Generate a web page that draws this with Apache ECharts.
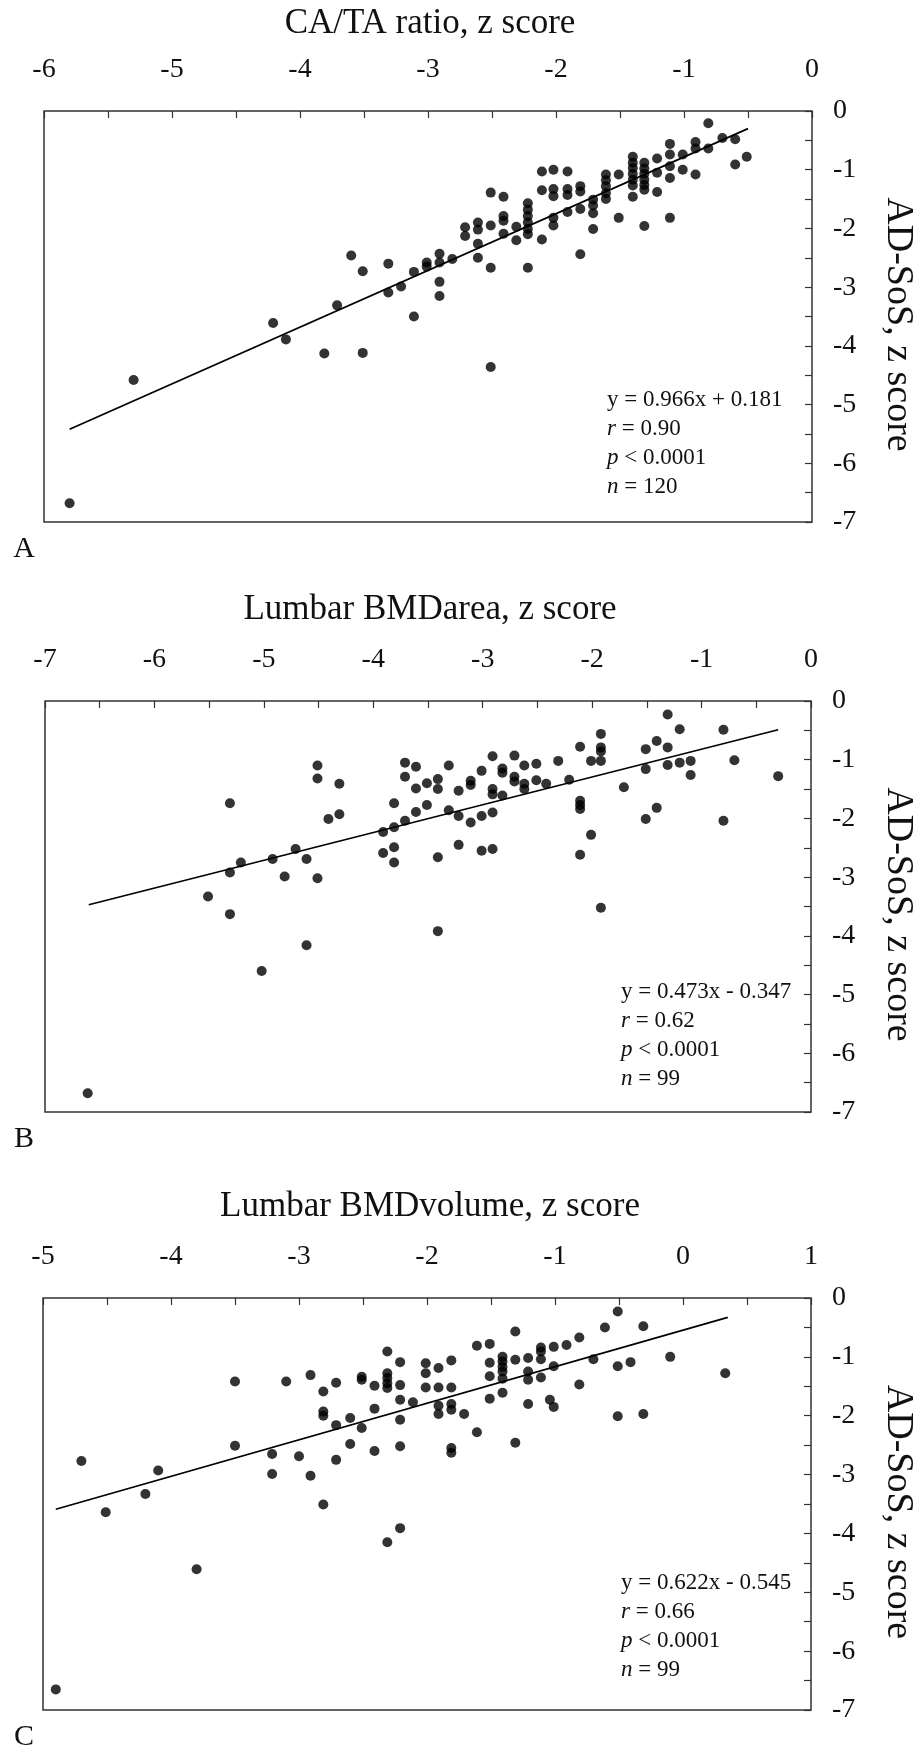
<!DOCTYPE html>
<html><head><meta charset="utf-8">
<script src="https://cdn.jsdelivr.net/npm/echarts@6/dist/echarts.min.js"></script>
<style>html,body{margin:0;padding:0;background:#fff}#c{width:916px;height:1748px}</style>
</head><body><div id="c"></div>
<script>
// ---------- DATA ----------
const titlesX = ['CA/TA ratio, z score', 'Lumbar BMDarea, z score', 'Lumbar BMDvolume, z score'];
const titleY = 'AD-SoS, z score';
const panelLetters = ['A', 'B', 'C'];
const xRangeA = [-6, 0];
const xRangeB = [-7, 0];
const xRangeC = [-5, 1];
const yRange = [-7, 0];

const pointsA = [
  [-5.80,-6.68],[-5.30,-4.58],[-4.21,-3.61],[-4.11,-3.89],[-3.81,-4.13],[-3.71,-3.31],[-3.60,-2.46],
  [-3.51,-2.73],[-3.51,-4.12],[-3.31,-2.60],[-3.31,-3.09],[-3.21,-2.99],[-3.11,-2.74],[-3.11,-3.50],
  [-3.01,-2.58],[-3.01,-2.65],[-2.91,-2.43],[-2.91,-2.58],[-2.91,-2.91],[-2.91,-3.15],[-2.81,-2.52],
  [-2.71,-1.98],[-2.71,-2.13],[-2.61,-1.90],[-2.61,-2.02],[-2.61,-2.26],[-2.61,-2.50],[-2.51,-1.39],
  [-2.51,-1.95],[-2.51,-2.67],[-2.51,-4.36],[-2.41,-1.46],[-2.41,-1.79],[-2.41,-1.87],[-2.41,-2.09],
  [-2.31,-1.97],[-2.31,-2.20],
  [-2.22,-1.57],[-2.22,-1.68],[-2.22,-1.79],[-2.22,-1.90],[-2.22,-2.01],[-2.22,-2.10],[-2.22,-2.67],
  [-2.11,-1.03],[-2.11,-1.35],[-2.11,-2.19],
  [-2.02,-1.00],[-2.02,-1.33],[-2.02,-1.45],[-2.02,-1.82],[-2.02,-1.95],
  [-1.91,-1.03],[-1.91,-1.33],[-1.91,-1.43],[-1.91,-1.72],
  [-1.81,-1.28],[-1.81,-1.37],[-1.81,-1.67],[-1.81,-2.44],
  [-1.71,-1.51],[-1.71,-1.61],[-1.71,-1.74],[-1.71,-2.01],
  [-1.61,-1.08],[-1.61,-1.18],[-1.61,-1.28],[-1.61,-1.40],[-1.61,-1.50],
  [-1.51,-1.08],[-1.51,-1.82],
  [-1.40,-0.78],[-1.40,-0.88],[-1.40,-0.97],[-1.40,-1.07],[-1.40,-1.17],[-1.40,-1.27],[-1.40,-1.46],
  [-1.31,-0.88],[-1.31,-0.98],[-1.31,-1.07],[-1.31,-1.17],[-1.31,-1.26],[-1.31,-1.34],[-1.31,-1.96],
  [-1.21,-0.81],[-1.21,-1.05],[-1.21,-1.38],
  [-1.11,-0.56],[-1.11,-0.74],[-1.11,-0.94],[-1.11,-1.14],[-1.11,-1.82],
  [-1.01,-0.74],[-1.01,-1.00],
  [-0.91,-0.53],[-0.91,-0.64],[-0.91,-1.08],
  [-0.81,-0.21],[-0.81,-0.64],
  [-0.70,-0.46],[-0.60,-0.48],[-0.60,-0.91],[-0.51,-0.78]
];
const pointsB = [
  [-6.61,-6.68],[-5.51,-3.33],[-5.31,-1.74],[-5.31,-2.92],[-5.31,-3.63],[-5.21,-2.75],[-5.02,-4.60],
  [-4.92,-2.69],[-4.81,-2.99],[-4.71,-2.52],[-4.61,-2.69],[-4.61,-4.16],[-4.51,-1.10],[-4.51,-1.32],
  [-4.51,-3.02],[-4.41,-2.01],[-4.31,-1.41],[-4.31,-1.93],[-3.91,-2.23],[-3.91,-2.59],[-3.81,-1.74],
  [-3.81,-2.15],[-3.81,-2.49],[-3.81,-2.75],[-3.71,-1.05],[-3.71,-1.29],[-3.71,-2.04],[-3.61,-1.12],
  [-3.61,-1.49],[-3.61,-1.89],[-3.51,-1.40],[-3.51,-1.77],[-3.41,-1.33],[-3.41,-1.50],[-3.41,-2.66],
  [-3.41,-3.92],[-3.31,-1.10],[-3.31,-1.86],[-3.22,-1.53],[-3.22,-1.96],[-3.22,-2.45],[-3.11,-1.36],
  [-3.11,-1.43],[-3.11,-2.07],[-3.01,-1.19],[-3.01,-1.96],[-3.01,-2.55],[-2.91,-0.94],[-2.91,-1.50],
  [-2.91,-1.59],[-2.91,-1.90],[-2.91,-2.52],[-2.82,-1.15],[-2.82,-1.22],[-2.82,-1.61],[-2.71,-0.93],
  [-2.71,-1.29],[-2.71,-1.37],[-2.62,-1.10],[-2.62,-1.41],[-2.62,-1.50],[-2.51,-1.07],[-2.51,-1.35],
  [-2.42,-1.41],[-2.31,-1.02],[-2.21,-1.34],[-2.11,-0.78],[-2.11,-1.70],[-2.11,-1.77],[-2.11,-1.84],
  [-2.11,-2.62],[-2.01,-1.02],[-2.01,-2.28],[-1.92,-0.56],[-1.92,-0.79],[-1.92,-0.86],[-1.92,-1.02],
  [-1.92,-3.52],[-1.71,-1.47],[-1.51,-0.82],[-1.51,-1.16],[-1.51,-2.01],[-1.41,-0.68],[-1.41,-1.82],
  [-1.31,-0.23],[-1.31,-0.79],[-1.31,-1.09],[-1.20,-0.48],[-1.20,-1.05],[-1.10,-1.02],[-1.10,-1.26],
  [-0.80,-0.49],[-0.80,-2.04],[-0.70,-1.01],[-0.30,-1.28]
];
const pointsC = [
  [-4.90,-6.65],[-4.70,-2.77],[-4.51,-3.64],[-4.20,-3.33],[-4.10,-2.93],[-3.80,-4.61],[-3.50,-1.42],
  [-3.50,-2.51],[-3.21,-2.65],[-3.21,-2.99],[-3.10,-1.42],[-3.00,-2.69],[-2.91,-1.31],[-2.91,-3.02],
  [-2.81,-1.59],[-2.81,-1.93],[-2.81,-2.00],[-2.81,-3.51],[-2.71,-1.44],[-2.71,-2.16],[-2.71,-2.75],
  [-2.60,-2.04],[-2.60,-2.48],[-2.51,-1.34],[-2.51,-1.39],[-2.51,-2.21],[-2.41,-1.49],[-2.41,-1.88],
  [-2.41,-2.60],[-2.31,-0.91],[-2.31,-1.28],[-2.31,-1.36],[-2.31,-1.45],[-2.31,-1.53],[-2.31,-4.15],
  [-2.21,-1.09],[-2.21,-1.48],[-2.21,-1.73],[-2.21,-2.07],[-2.21,-2.52],[-2.21,-3.91],[-2.11,-1.77],
  [-2.01,-1.11],[-2.01,-1.28],[-2.01,-1.52],[-1.91,-1.19],[-1.91,-1.52],[-1.91,-1.83],[-1.91,-1.97],
  [-1.81,-1.06],[-1.81,-1.52],[-1.81,-1.80],[-1.81,-1.90],[-1.81,-2.55],[-1.81,-2.63],[-1.71,-1.97],
  [-1.61,-0.81],[-1.61,-2.28],[-1.51,-0.78],[-1.51,-1.10],[-1.51,-1.33],[-1.51,-1.71],[-1.41,-1.00],
  [-1.41,-1.08],[-1.41,-1.17],[-1.41,-1.25],[-1.41,-1.37],[-1.41,-1.61],[-1.31,-0.57],[-1.31,-1.05],
  [-1.31,-2.46],[-1.21,-1.02],[-1.21,-1.25],[-1.21,-1.39],[-1.21,-1.80],[-1.11,-0.84],[-1.11,-0.91],
  [-1.11,-1.04],[-1.11,-1.35],[-1.04,-1.73],[-1.01,-1.85],[-1.01,-0.83],[-1.01,-1.16],[-0.91,-0.80],
  [-0.81,-0.67],[-0.81,-1.47],[-0.70,-1.04],[-0.61,-0.50],[-0.51,-0.23],[-0.51,-1.16],[-0.51,-2.01],
  [-0.41,-1.09],[-0.31,-0.48],[-0.31,-1.97],[-0.10,-1.00],[0.33,-1.28]
];
// regression lines (endpoints)
const lineA = [[-5.8,-5.42],[-0.5,-0.30]];
const lineB = [[-6.6,-3.47],[-0.3,-0.49]];
const lineC = [[-4.9,-3.59],[0.35,-0.33]];
const statsA = ['y = 0.966x + 0.181', 'r', ' = 0.90', 'p', ' < 0.0001', 'n', ' = 120'];
const statsB = ['y = 0.473x - 0.347', 'r', ' = 0.62', 'p', ' < 0.0001', 'n', ' = 99'];
const statsC = ['y = 0.622x - 0.545', 'r', ' = 0.66', 'p', ' < 0.0001', 'n', ' = 99'];

// ---------- LAYOUT ----------
const FONT = '"Liberation Serif", "DejaVu Serif", serif';
const grids = [
  {left: 44, top: 111, width: 768, height: 411},
  {left: 45, top: 701, width: 766, height: 411},
  {left: 43, top: 1298, width: 768, height: 412}
];
const xRanges = [xRangeA, xRangeB, xRangeC];
const points = [pointsA, pointsB, pointsC];
const lines = [lineA, lineB, lineC];
const stats = [statsA, statsB, statsC];
const statsPos = [[607, 400], [621, 992], [621, 1583]];
const titleYPos = [24, 610, 1207];

const chart = echarts.init(document.getElementById('c'), null, {renderer: 'canvas'});
const fmt = v => (Math.abs(v - Math.round(v)) < 1e-9 ? String(Math.round(v)) : '');

const option = {
  animation: false,
  backgroundColor: '#fff',
  grid: grids.map(g => Object.assign({show: true, borderColor: '#333', borderWidth: 1.5, backgroundColor: 'transparent'}, g)),
  xAxis: grids.map((g, i) => ({
    type: 'value', gridIndex: i, position: 'top', min: xRanges[i][0], max: xRanges[i][1], interval: 0.5,
    axisLine: {show: false, onZero: false},
    axisTick: {show: true, inside: true, length: 7, lineStyle: {color: '#333', width: 1.2}},
    axisLabel: {formatter: fmt, fontFamily: FONT, fontSize: 28, color: '#111', margin: 27},
    splitLine: {show: false}
  })),
  yAxis: grids.map((g, i) => ({
    type: 'value', gridIndex: i, position: 'right', min: yRange[0], max: yRange[1], interval: 0.5,
    axisLine: {show: false, onZero: false},
    axisTick: {show: true, inside: true, length: 7, lineStyle: {color: '#333', width: 1.2}},
    axisLabel: {formatter: fmt, fontFamily: FONT, fontSize: 28, color: '#111', margin: 21},
    splitLine: {show: false}
  })),
  series: [].concat(...grids.map((g, i) => [
    {type: 'scatter', xAxisIndex: i, yAxisIndex: i, data: points[i], symbol: 'circle', symbolSize: 10,
     itemStyle: {color: '#000'}, silent: true},
    {type: 'line', xAxisIndex: i, yAxisIndex: i, data: lines[i], symbol: 'none',
     lineStyle: {color: '#000', width: 1.7}, silent: true}
  ])),
  graphic: [].concat(...grids.map((g, i) => {
    const s = stats[i];
    const cy = g.top + g.height / 2 + 8;
    const items = [
      {type: 'text', x: 430, y: titleYPos[i], style: {text: titlesX[i], font: '35px ' + FONT, fill: '#111', textAlign: 'center', textVerticalAlign: 'middle'}},
      {type: 'text', x: 898, y: cy, rotation: -Math.PI / 2, style: {text: titleY, font: '38px ' + FONT, fill: '#111', textAlign: 'center', textVerticalAlign: 'middle'}},
      {type: 'text', x: 24, y: g.top + g.height + 27, style: {text: panelLetters[i], font: '30px ' + FONT, fill: '#111', textAlign: 'center', textVerticalAlign: 'middle'}}
    ];
    const [sx, sy] = statsPos[i];
    const lh = 29;
    items.push({type: 'text', x: sx, y: sy, style: {text: s[0], font: '23px ' + FONT, fill: '#111', textAlign: 'left', textVerticalAlign: 'middle'}});
    for (let k = 0; k < 3; k++) {
      items.push({type: 'text', x: sx, y: sy + lh * (k + 1), style: {
        text: '{i|' + s[1 + 2 * k] + '}{n|' + s[2 + 2 * k] + '}',
        textAlign: 'left', textVerticalAlign: 'middle',
        rich: {i: {font: 'italic 23px ' + FONT, fill: '#111'}, n: {font: '23px ' + FONT, fill: '#111'}}
      }});
    }
    return items;
  }))
};
chart.setOption(option);
</script></body></html>
